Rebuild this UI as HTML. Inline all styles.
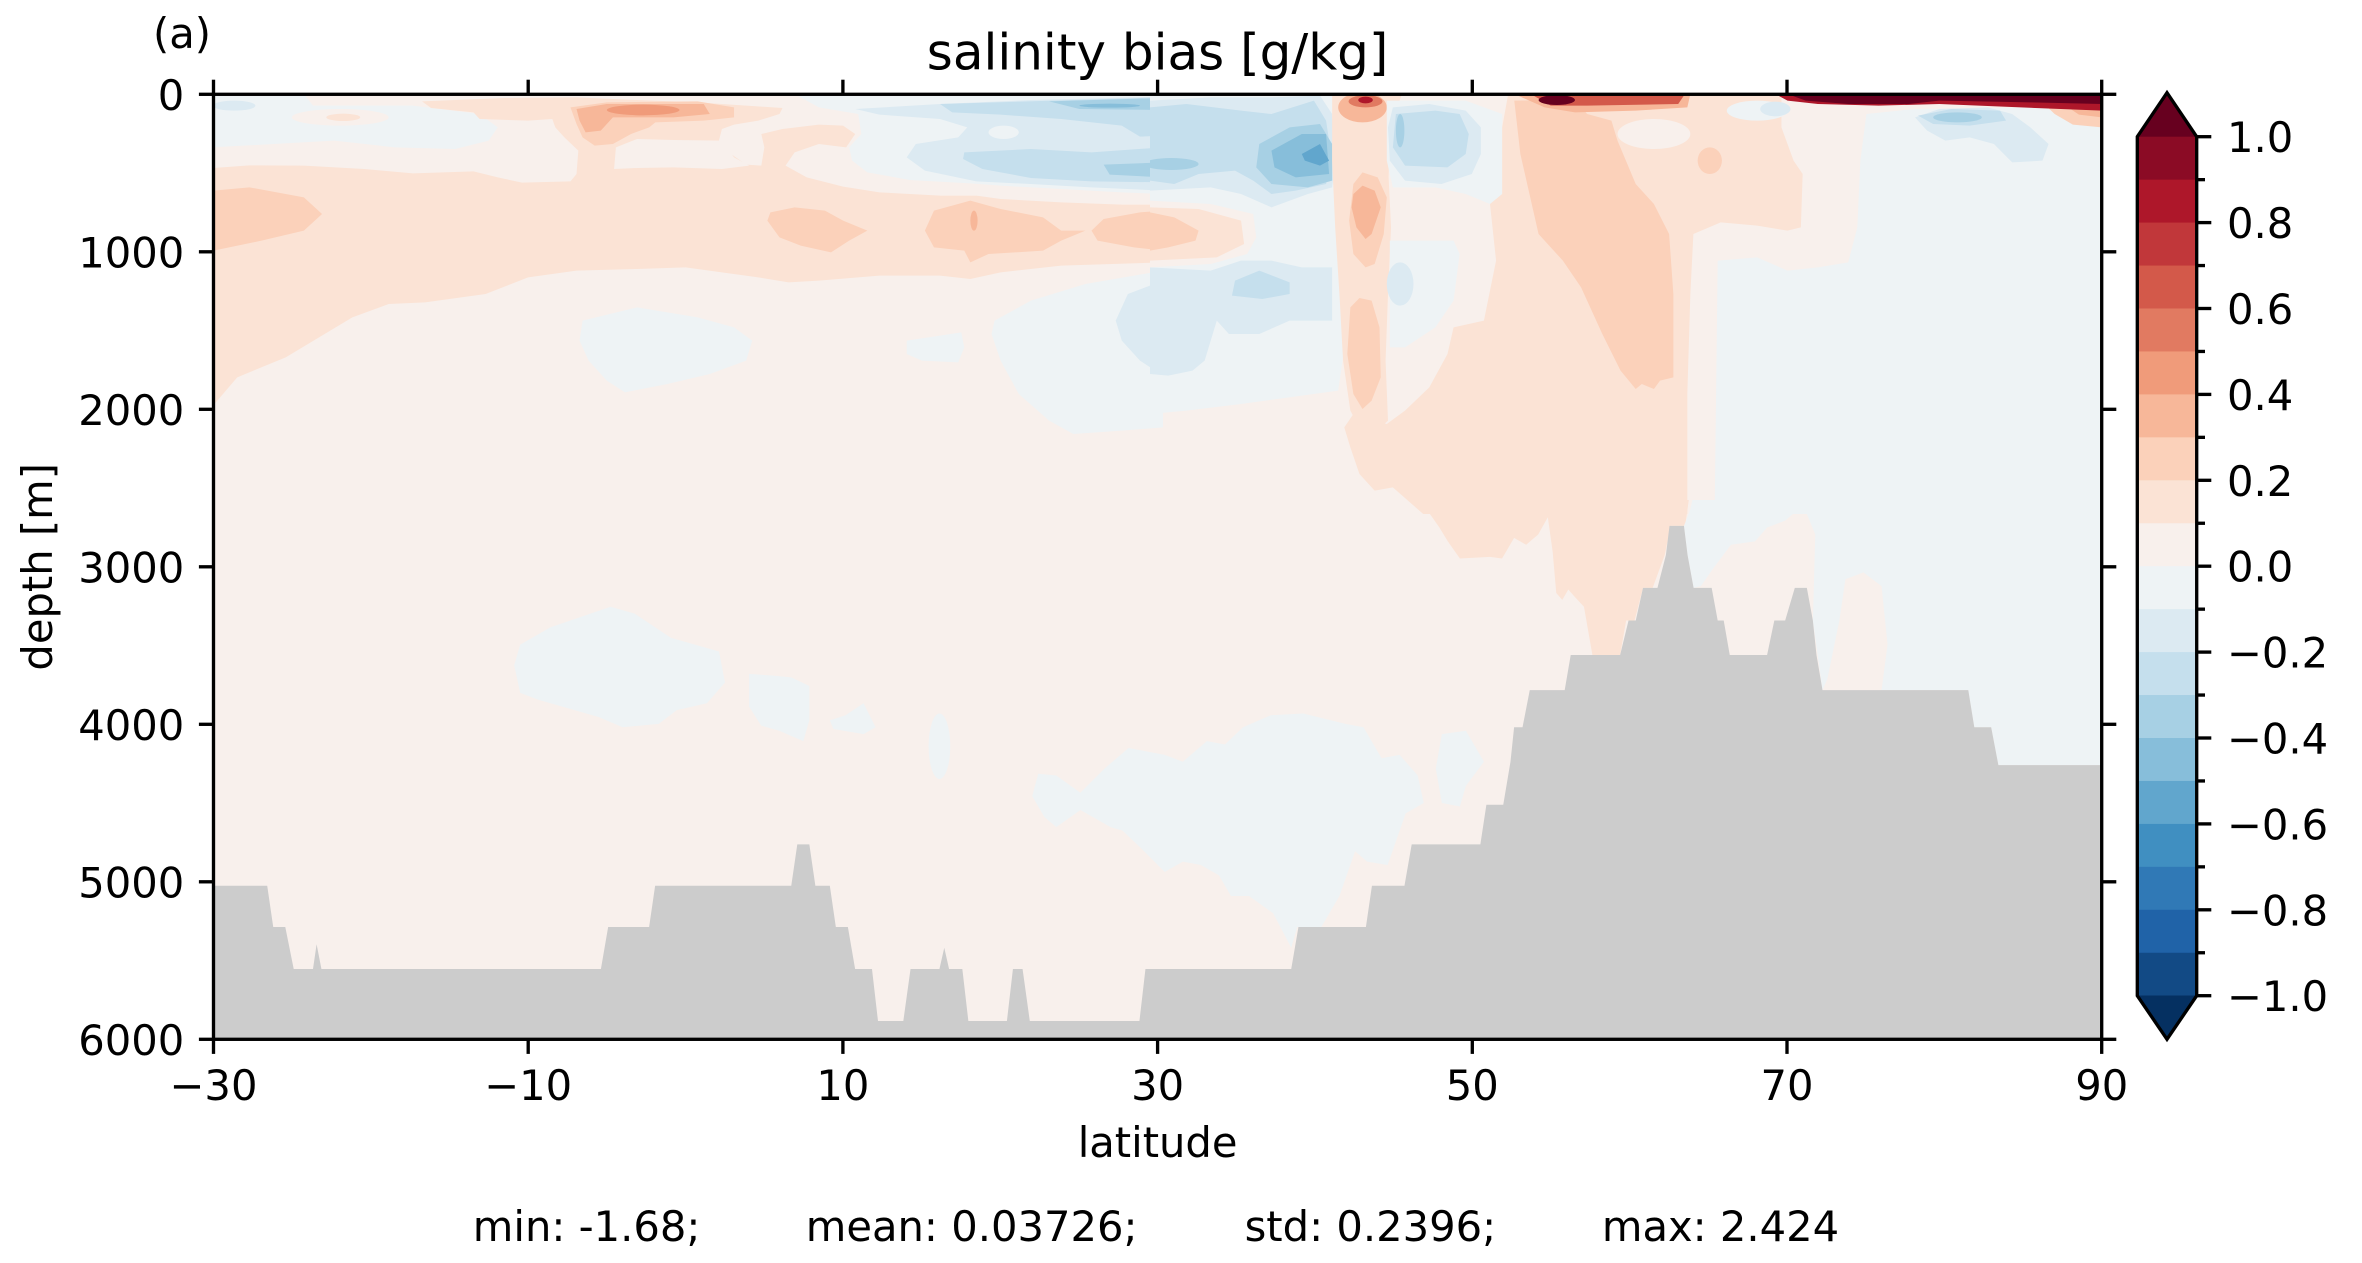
<!DOCTYPE html>
<html><head><meta charset="utf-8"><style>html,body{margin:0;padding:0;background:#fff}svg{display:block}</style></head>
<body>
<svg xmlns="http://www.w3.org/2000/svg" width="2362" height="1263" viewBox="0 0 2362 1263" font-family="DejaVu Sans, Liberation Sans, sans-serif">
<rect width="2362" height="1263" fill="#fff"/>
<defs><clipPath id="pc"><rect x="213.5" y="94.3" width="1888.2" height="945"/></clipPath></defs>
<g clip-path="url(#pc)">
<rect x="213.5" y="94.3" width="1888.2" height="945" fill="#f8f0ec"/>
<!-- lower frame colored regions -->
<svg x="213" y="500" width="1889" height="540" viewBox="0 0 1568 1568" preserveAspectRatio="none">
<path fill="#fbe3d5" d="M1002,0 L1225,0 L1222,75 L1210,75 L1205,160 L1195,255 L1187,255 L1180,350 L1173,350 L1168,450 L1145,450 L1138,310 L1130,280 L1125,260 L1120,290 L1115,270 L1112,150 L1108,50 L1100,100 L1090,130 L1080,110 L1070,170 L1060,165 L1035,170 L1025,120 L1018,80 L1008,30 Z"/>
<path fill="#eef3f5" d="M1228,0 L1568,0 L1568,770 L1482,770 L1476,660 L1462,660 L1457,552 L1385,552 L1390,420 L1385,250 L1370,210 L1355,230 L1350,350 L1340,520 L1336,552 L1328,350 L1330,100 L1320,15 L1305,60 L1290,80 L1280,120 L1260,130 L1245,200 L1235,250 L1229,255 L1224,160 L1221,75 L1226,30 Z"/>
<path fill="#eef3f5" d="M255,420 L280,370 L330,310 L350,330 L380,400 L420,440 L425,530 L410,590 L385,610 L370,650 L340,660 L320,630 L270,580 L255,560 L250,480 Z"/>
<path fill="#eef3f5" d="M445,505 L465,510 L480,515 L495,540 L495,640 L490,700 L470,670 L455,655 L445,600 Z"/>
<path fill="#eef3f5" d="M512,640 L525,625 L540,590 L550,660 L540,680 L515,665 Z"/>
<ellipse fill="#eef3f5" cx="603" cy="715" rx="9" ry="95"/>
<path fill="#eef3f5" d="M685,795 L700,800 L720,850 L740,780 L760,720 L790,740 L805,760 L825,700 L840,710 L855,660 L878,625 L905,620 L940,650 L955,660 L970,750 L985,740 L1000,800 L1005,880 L990,910 L985,960 L975,1060 L958,1050 L948,1020 L935,1150 L920,1240 L900,1240 L895,1300 L880,1200 L860,1150 L845,1150 L835,1090 L820,1060 L805,1050 L790,1080 L770,1010 L755,960 L745,950 L735,930 L720,900 L700,950 L690,920 L680,860 Z"/>
<path fill="#eef3f5" d="M1020,680 L1040,670 L1055,760 L1040,830 L1035,890 L1020,880 L1015,780 Z"/>
</svg>
<!-- upper-left frame -->
<svg x="213" y="94" width="950" height="420" viewBox="0 0 1568 1260" preserveAspectRatio="none">
<path fill="#eef3f5" d="M0,0 L150,0 L165,35 L330,35 L440,60 L470,100 L455,140 L400,165 L300,160 L200,140 L100,150 L0,160 Z"/>
<ellipse fill="#dceaf2" cx="35" cy="35" rx="35" ry="15"/>
<ellipse fill="#f8f0ec" cx="210" cy="70" rx="80" ry="25"/>
<ellipse fill="#fbe3d5" cx="215" cy="70" rx="28" ry="11"/>
<path fill="#eef3f5" d="M960,0 L1568,0 L1568,300 L1500,295 L1400,285 L1300,275 L1250,268 L1150,258 L1080,235 L1055,200 L1050,160 L1070,120 L1065,60 L1000,40 Z"/>
<path fill="#dceaf2" d="M1060,45 L1200,30 L1350,18 L1568,8 L1568,290 L1450,280 L1350,270 L1260,262 L1175,230 L1145,190 L1160,150 L1230,130 L1245,100 L1200,75 L1100,62 Z"/>
<ellipse fill="#eef3f5" cx="1305" cy="115" rx="25" ry="20"/>
<path fill="#c5dfed" d="M1240,175 L1350,165 L1450,175 L1568,160 L1568,265 L1450,262 L1350,252 L1270,225 L1238,195 Z"/>
<path fill="#c5dfed" d="M1200,30 L1568,10 L1568,125 L1530,128 L1500,95 L1400,75 L1300,62 L1220,55 Z"/>
<path fill="#a7d0e4" d="M1470,212 L1568,205 L1568,250 L1480,242 Z"/>
<path fill="#a7d0e4" d="M1380,22 L1568,12 L1568,48 L1430,45 Z"/>
<ellipse fill="#87beda" cx="1480" cy="35" rx="50" ry="6"/>
<path fill="#fbe3d5" d="M0,222 L60,214 L150,215 L250,225 L330,238 L430,232 L470,250 L510,266 L590,262 L600,240 L603,170 L580,130 L565,100 L560,75 L520,80 L440,75 L430,55 L360,42 L345,22 L480,12 L600,10 L700,18 L800,25 L880,35 L940,42 L935,60 L900,80 L860,92 L840,105 L835,140 L855,180 L880,212 L905,215 L910,160 L905,120 L940,105 L1000,92 L1040,95 L1060,120 L1045,160 L1000,150 L960,175 L945,215 L980,250 L1040,278 L1100,295 L1200,305 L1260,305 L1300,315 L1400,325 L1500,332 L1568,332 L1568,505 L1400,515 L1300,535 L1250,555 L1200,545 L1100,545 L1000,560 L950,565 L900,550 L780,520 L700,525 L600,530 L520,550 L450,600 L350,625 L290,630 L230,670 L120,790 L40,850 L0,935 Z"/>
<path fill="#f8f0ec" d="M662,225 L665,160 L700,135 L760,138 L840,140 L860,190 L885,215 L840,225 L760,220 L700,222 Z"/>
<path fill="#fbd1ba" d="M0,290 L60,280 L150,310 L180,360 L150,410 L80,440 L0,470 Z"/>
<path fill="#fbd1ba" d="M920,355 L960,340 L1010,350 L1040,380 L1080,410 L1050,440 L1020,475 L970,455 L935,430 L915,380 Z"/>
<path fill="#fbd1ba" d="M1190,350 L1250,320 L1300,345 L1370,370 L1400,410 L1440,410 L1400,440 L1370,470 L1280,480 L1250,505 L1240,470 L1190,460 L1175,410 Z"/>
<path fill="#fbd1ba" d="M1470,375 L1530,355 L1568,350 L1568,470 L1520,460 L1460,440 L1450,410 Z"/>
<ellipse fill="#f7b799" cx="1256" cy="380" rx="6" ry="30"/>
<path fill="#fbd1ba" d="M590,40 L650,25 L800,22 L860,40 L860,70 L810,80 L730,85 L720,100 L690,120 L660,150 L630,155 L610,130 L600,90 Z"/>
<path fill="#f7b799" d="M600,45 L650,30 L810,30 L820,60 L760,70 L660,70 L640,110 L615,115 L605,80 Z"/>
<ellipse fill="#f09b7a" cx="710" cy="48" rx="60" ry="16"/>
<path fill="#eef3f5" d="M610,680 L700,640 L800,670 L860,700 L890,740 L880,800 L820,840 L750,870 L680,895 L650,860 L620,800 L605,740 Z"/>
<path fill="#eef3f5" d="M1145,740 L1200,725 L1235,715 L1240,760 L1230,805 L1170,800 L1145,780 Z"/>
<path fill="#eef3f5" d="M1290,680 L1350,620 L1440,570 L1568,530 L1568,1000 L1500,1010 L1420,1020 L1380,980 L1330,900 L1300,800 L1285,720 Z"/>
<path fill="#dceaf2" d="M1510,600 L1568,560 L1568,845 L1530,800 L1500,740 L1490,680 Z"/>
</svg>
<!-- upper-right frame -->
<svg x="1150" y="94" width="952" height="420" viewBox="0 0 1568 1260" preserveAspectRatio="none">
<path fill="#eef3f5" d="M0,0 L300,0 L315,150 L320,400 L325,700 L310,890 L250,905 L150,930 L60,950 L0,960 Z"/>
<path fill="#dceaf2" d="M0,20 L100,10 L200,10 L280,5 L300,60 L305,200 L300,280 L260,300 L200,340 L150,300 L100,280 L50,285 L0,290 Z"/>
<path fill="#c5dfed" d="M0,40 L60,30 L150,50 L200,60 L270,20 L290,80 L300,200 L290,270 L240,290 L200,300 L170,260 L140,230 L80,240 L40,270 L0,260 Z"/>
<ellipse fill="#a7d0e4" cx="35" cy="210" rx="45" ry="18"/>
<path fill="#a7d0e4" d="M180,150 L230,100 L280,90 L300,150 L300,260 L260,280 L200,270 L175,220 Z"/>
<path fill="#87beda" d="M200,170 L250,120 L290,120 L295,240 L240,250 L205,220 Z"/>
<path fill="#61a6cd" d="M250,180 L280,150 L295,200 L280,215 L255,200 Z"/>
<path fill="#dceaf2" d="M0,520 L100,530 L150,500 L200,500 L250,520 L300,520 L300,680 L230,680 L180,720 L130,720 L110,680 L90,800 L70,830 L30,845 L0,840 Z"/>
<path fill="#c5dfed" d="M140,560 L180,530 L230,565 L230,600 L185,615 L135,605 Z"/>
<path fill="#f8f0ec" d="M0,320 L100,330 L170,360 L175,430 L160,480 L100,510 L0,520 Z"/>
<path fill="#fbe3d5" d="M0,340 L80,345 L150,380 L155,450 L110,490 L0,500 Z"/>
<path fill="#fbd1ba" d="M0,355 L40,370 L80,410 L75,440 L30,460 L0,470 Z"/>
<path fill="#fbe3d5" d="M590,0 L1040,0 L1040,100 L1060,200 L1075,240 L1072,400 L1050,410 L1000,395 L940,385 L895,420 L890,600 L885,900 L885,1260 L450,1260 L400,1180 L370,1190 L345,1140 L330,1060 L320,1000 L335,960 L390,990 L420,950 L460,880 L490,780 L500,700 L550,680 L570,500 L560,330 L550,300 L560,200 L580,100 Z"/>
<ellipse fill="#f8f0ec" cx="830" cy="120" rx="60" ry="45"/>
<ellipse fill="#fbd1ba" cx="922" cy="200" rx="20" ry="40"/>
<path fill="#fbd1ba" d="M600,20 L700,18 L720,60 L760,80 L770,140 L800,270 L830,330 L855,420 L862,600 L862,850 L840,860 L830,885 L810,870 L800,885 L775,830 L745,720 L710,580 L680,500 L640,420 L625,300 L610,180 Z"/>
<path fill="#fbe3d5" d="M300,0 L415,0 L405,50 L395,120 L393,250 L397,400 L392,600 L388,800 L392,980 L380,1000 L345,1000 L330,950 L318,800 L312,600 L305,400 L300,200 Z"/>
<path fill="#fbd1ba" d="M335,270 L350,235 L375,250 L390,310 L385,420 L370,510 L355,520 L335,480 L328,380 Z"/>
<path fill="#f7b799" d="M335,300 L350,275 L370,290 L380,340 L365,420 L355,435 L340,400 L332,340 Z"/>
<path fill="#fbd1ba" d="M330,640 L345,612 L365,620 L378,700 L380,850 L365,920 L350,945 L335,900 L325,780 Z"/>
<ellipse fill="#f7b799" cx="350" cy="40" rx="40" ry="45"/>
<ellipse fill="#e17a61" cx="355" cy="22" rx="28" ry="18"/>
<ellipse fill="#ae172a" cx="355" cy="18" rx="12" ry="10"/>
<path fill="#eef3f5" d="M390,20 L520,20 L580,60 L580,300 L560,330 L520,300 L470,280 L400,280 L390,200 Z"/>
<path fill="#dceaf2" d="M400,40 L460,30 L520,50 L545,100 L545,180 L530,240 L480,270 L420,260 L395,200 L392,100 Z"/>
<path fill="#c5dfed" d="M405,60 L470,50 L510,60 L525,120 L520,180 L490,220 L420,215 L400,160 Z"/>
<ellipse fill="#a7d0e4" cx="412" cy="110" rx="7" ry="50"/>
<path fill="#eef3f5" d="M395,440 L500,440 L510,480 L500,620 L470,700 L420,760 L395,760 Z"/>
<ellipse fill="#dceaf2" cx="412" cy="570" rx="22" ry="65"/>
<path fill="#eef3f5" d="M935,500 L1000,490 L1050,530 L1100,520 L1150,505 L1165,400 L1170,200 L1180,60 L1260,45 L1470,40 L1568,95 L1568,1260 L930,1260 Z"/>
<ellipse fill="#eef3f5" cx="1000" cy="50" rx="50" ry="30"/>
<ellipse fill="#dceaf2" cx="1030" cy="45" rx="25" ry="22"/>
<path fill="#dceaf2" d="M1260,70 L1300,45 L1380,40 L1420,60 L1450,100 L1480,150 L1470,200 L1420,205 L1390,150 L1350,130 L1310,140 L1280,110 Z"/>
<path fill="#c5dfed" d="M1265,65 L1320,45 L1400,50 L1410,80 L1350,95 L1290,90 Z"/>
<ellipse fill="#a7d0e4" cx="1330" cy="70" rx="40" ry="15"/>
<path fill="#fbd1ba" d="M1470,25 L1568,30 L1568,100 L1520,92 L1490,60 Z"/>
<path fill="#f7b799" d="M1500,25 L1568,30 L1568,70 L1530,62 Z"/>
<path fill="#f7b799" d="M600,0 L890,0 L885,40 L800,50 L700,55 L650,40 Z"/>
<path fill="#d3594a" d="M630,3 L880,3 L870,30 L720,35 L660,35 Z"/>
<ellipse fill="#67001f" cx="670" cy="18" rx="30" ry="15"/>
<path fill="#ae172a" d="M1030,0 L1568,0 L1568,50 L1500,45 L1300,30 L1200,35 L1100,30 L1050,20 Z"/>
<path fill="#67001f" d="M1050,0 L1568,0 L1568,30 L1450,25 L1300,20 L1250,30 L1150,30 L1080,20 Z"/>
</svg>
<!-- bathymetry -->
<svg x="213" y="500" width="1889" height="540" viewBox="0 0 1568 1568" preserveAspectRatio="none">
<path fill="#cccccc" d="M0,1120 L45,1120 L50,1240 L60,1240 L67,1362 L83,1362 L86,1290 L90,1362 L322,1362 L328,1240 L362,1240 L367,1120 L480,1120 L485,1000 L495,1000 L500,1120 L512,1120 L517,1240 L527,1240 L533,1362 L547,1362 L552,1513 L573,1513 L579,1362 L603,1362 L607,1300 L611,1362 L622,1362 L627,1513 L659,1513 L664,1362 L672,1362 L678,1513 L769,1513 L774,1362 L895,1362 L901,1240 L957,1240 L962,1120 L989,1120 L995,1000 L1052,1000 L1057,885 L1071,885 L1077,760 L1080,660 L1087,660 L1093,552 L1122,552 L1127,450 L1168,450 L1175,350 L1181,350 L1187,255 L1199,255 L1206,160 L1209,75 L1221,75 L1224,160 L1229,255 L1244,255 L1249,350 L1254,350 L1259,450 L1290,450 L1296,350 L1305,350 L1313,255 L1323,255 L1328,350 L1331,450 L1336,552 L1457,552 L1462,660 L1476,660 L1482,770 L1568,770 L1568,1600 L0,1600 Z"/>
</svg>
</g>
<!-- axes frame -->
<rect x="213.5" y="94.3" width="1888.2" height="945" fill="none" stroke="#000" stroke-width="3.33"/>
<g stroke="#000" stroke-width="3.33">
<!-- x ticks bottom & top -->
<line x1="213.5" y1="1039.3" x2="213.5" y2="1053.9"/><line x1="528.2" y1="1039.3" x2="528.2" y2="1053.9"/><line x1="842.9" y1="1039.3" x2="842.9" y2="1053.9"/><line x1="1157.6" y1="1039.3" x2="1157.6" y2="1053.9"/><line x1="1472.3" y1="1039.3" x2="1472.3" y2="1053.9"/><line x1="1787" y1="1039.3" x2="1787" y2="1053.9"/><line x1="2101.7" y1="1039.3" x2="2101.7" y2="1053.9"/>
<line x1="213.5" y1="94.3" x2="213.5" y2="79.7"/><line x1="528.2" y1="94.3" x2="528.2" y2="79.7"/><line x1="842.9" y1="94.3" x2="842.9" y2="79.7"/><line x1="1157.6" y1="94.3" x2="1157.6" y2="79.7"/><line x1="1472.3" y1="94.3" x2="1472.3" y2="79.7"/><line x1="1787" y1="94.3" x2="1787" y2="79.7"/><line x1="2101.7" y1="94.3" x2="2101.7" y2="79.7"/>
<!-- y ticks left & right -->
<line x1="213.5" y1="94.3" x2="198.9" y2="94.3"/><line x1="213.5" y1="251.8" x2="198.9" y2="251.8"/><line x1="213.5" y1="409.3" x2="198.9" y2="409.3"/><line x1="213.5" y1="566.8" x2="198.9" y2="566.8"/><line x1="213.5" y1="724.3" x2="198.9" y2="724.3"/><line x1="213.5" y1="881.8" x2="198.9" y2="881.8"/><line x1="213.5" y1="1039.3" x2="198.9" y2="1039.3"/>
<line x1="2101.7" y1="94.3" x2="2116.3" y2="94.3"/><line x1="2101.7" y1="251.8" x2="2116.3" y2="251.8"/><line x1="2101.7" y1="409.3" x2="2116.3" y2="409.3"/><line x1="2101.7" y1="566.8" x2="2116.3" y2="566.8"/><line x1="2101.7" y1="724.3" x2="2116.3" y2="724.3"/><line x1="2101.7" y1="881.8" x2="2116.3" y2="881.8"/><line x1="2101.7" y1="1039.3" x2="2116.3" y2="1039.3"/>
</g>
<g font-size="41.67" fill="#000">
<g text-anchor="middle">
<text x="213.5" y="1100">−30</text><text x="528.2" y="1100">−10</text><text x="842.9" y="1100">10</text><text x="1157.6" y="1100">30</text><text x="1472.3" y="1100">50</text><text x="1787" y="1100">70</text><text x="2101.7" y="1100">90</text>
</g>
<g text-anchor="end">
<text x="184.3" y="109.8">0</text><text x="184.3" y="267.3">1000</text><text x="184.3" y="424.8">2000</text><text x="184.3" y="582.3">3000</text><text x="184.3" y="739.8">4000</text><text x="184.3" y="897.3">5000</text><text x="184.3" y="1054.8">6000</text>
</g>
<text x="1157.6" y="1157" text-anchor="middle">latitude</text>
<text transform="translate(52,566.8) rotate(-90)" text-anchor="middle">depth [m]</text>
<text x="153" y="48">(a)</text>
<text x="472.8" y="1241">min: -1.68;</text>
<text x="805.8" y="1241">mean: 0.03726;</text>
<text x="1244.6" y="1241">std: 0.2396;</text>
<text x="1601.9" y="1241">max: 2.424</text>
</g>
<text x="1157.6" y="69.3" text-anchor="middle" font-size="50">salinity bias [g/kg]</text>
<!-- colorbar -->
<g>
<polygon points="2137.3,137 2167,92.7 2196.7,137" fill="#67001f"/>
<rect x="2137.3" y="136.7" width="59.4" height="43.5" fill="#8b0b25"/>
<rect x="2137.3" y="179.65" width="59.4" height="43.5" fill="#ae172a"/>
<rect x="2137.3" y="222.6" width="59.4" height="43.5" fill="#c1373a"/>
<rect x="2137.3" y="265.55" width="59.4" height="43.5" fill="#d3594a"/>
<rect x="2137.3" y="308.5" width="59.4" height="43.5" fill="#e17a61"/>
<rect x="2137.3" y="351.45" width="59.4" height="43.5" fill="#f09b7a"/>
<rect x="2137.3" y="394.4" width="59.4" height="43.5" fill="#f7b799"/>
<rect x="2137.3" y="437.35" width="59.4" height="43.5" fill="#fbd1ba"/>
<rect x="2137.3" y="480.3" width="59.4" height="43.5" fill="#fbe3d5"/>
<rect x="2137.3" y="523.25" width="59.4" height="43.5" fill="#f8f0ec"/>
<rect x="2137.3" y="566.2" width="59.4" height="43.5" fill="#eef3f5"/>
<rect x="2137.3" y="609.15" width="59.4" height="43.5" fill="#dceaf2"/>
<rect x="2137.3" y="652.1" width="59.4" height="43.5" fill="#c5dfed"/>
<rect x="2137.3" y="695.05" width="59.4" height="43.5" fill="#a7d0e4"/>
<rect x="2137.3" y="738" width="59.4" height="43.5" fill="#87beda"/>
<rect x="2137.3" y="780.95" width="59.4" height="43.5" fill="#61a6cd"/>
<rect x="2137.3" y="823.9" width="59.4" height="43.5" fill="#408fc1"/>
<rect x="2137.3" y="866.85" width="59.4" height="43.5" fill="#3079b6"/>
<rect x="2137.3" y="909.8" width="59.4" height="43.5" fill="#2063a8"/>
<rect x="2137.3" y="952.75" width="59.4" height="43" fill="#124a85"/>
<polygon points="2137.3,995.5 2167,1039.3 2196.7,995.5" fill="#053061"/>
<polygon points="2137.3,136.7 2167,92.7 2196.7,136.7 2196.7,995.7 2167,1039.3 2137.3,995.7" fill="none" stroke="#000" stroke-width="3.33" stroke-linejoin="miter"/>
</g>
<g stroke="#000" stroke-width="3.33">
<line x1="2196.7" y1="136.7" x2="2211.3" y2="136.7"/><line x1="2196.7" y1="222.6" x2="2211.3" y2="222.6"/><line x1="2196.7" y1="308.5" x2="2211.3" y2="308.5"/><line x1="2196.7" y1="394.4" x2="2211.3" y2="394.4"/><line x1="2196.7" y1="480.3" x2="2211.3" y2="480.3"/><line x1="2196.7" y1="566.2" x2="2211.3" y2="566.2"/><line x1="2196.7" y1="652.1" x2="2211.3" y2="652.1"/><line x1="2196.7" y1="738" x2="2211.3" y2="738"/><line x1="2196.7" y1="823.9" x2="2211.3" y2="823.9"/><line x1="2196.7" y1="909.8" x2="2211.3" y2="909.8"/><line x1="2196.7" y1="995.7" x2="2211.3" y2="995.7"/>
<line x1="2196.7" y1="179.65" x2="2205" y2="179.65"/><line x1="2196.7" y1="265.55" x2="2205" y2="265.55"/><line x1="2196.7" y1="351.45" x2="2205" y2="351.45"/><line x1="2196.7" y1="437.35" x2="2205" y2="437.35"/><line x1="2196.7" y1="523.25" x2="2205" y2="523.25"/><line x1="2196.7" y1="609.15" x2="2205" y2="609.15"/><line x1="2196.7" y1="695.05" x2="2205" y2="695.05"/><line x1="2196.7" y1="780.95" x2="2205" y2="780.95"/><line x1="2196.7" y1="866.85" x2="2205" y2="866.85"/><line x1="2196.7" y1="952.75" x2="2205" y2="952.75"/>
</g>
<g font-size="41.67" fill="#000">
<text x="2227" y="152.2">1.0</text><text x="2227" y="238.1">0.8</text><text x="2227" y="324">0.6</text><text x="2227" y="409.9">0.4</text><text x="2227" y="495.8">0.2</text><text x="2227" y="581.7">0.0</text><text x="2227" y="667.6">−0.2</text><text x="2227" y="753.5">−0.4</text><text x="2227" y="839.4">−0.6</text><text x="2227" y="925.3">−0.8</text><text x="2227" y="1011.2">−1.0</text>
</g>
</svg>
</body></html>
